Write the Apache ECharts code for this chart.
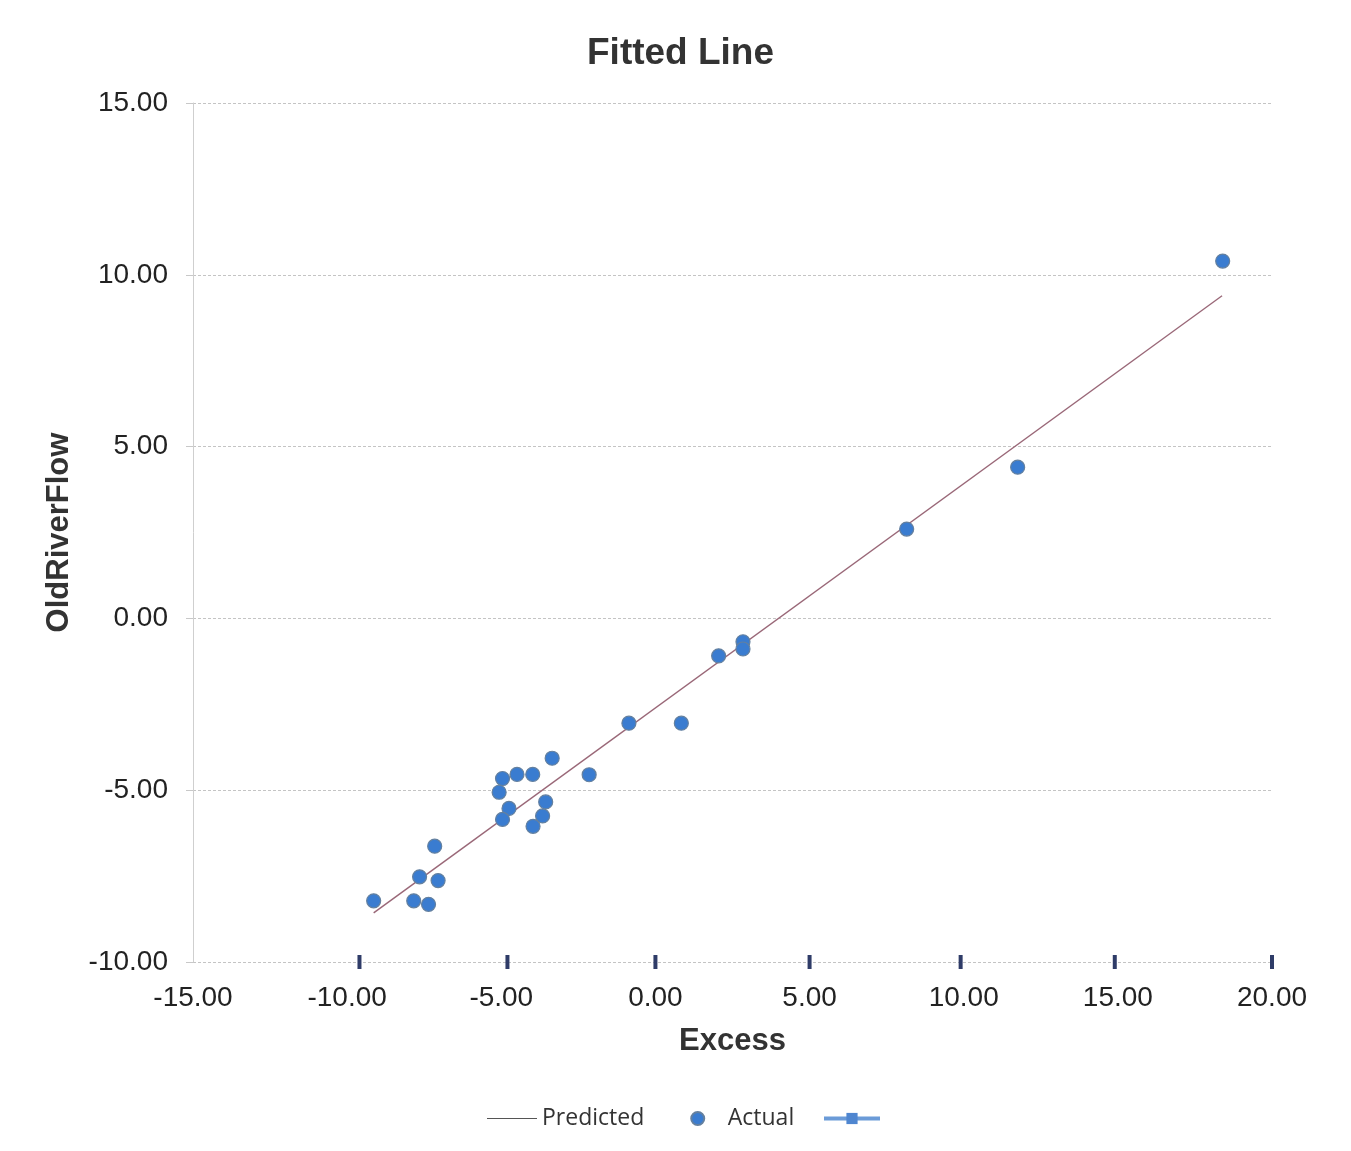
<!DOCTYPE html>
<html>
<head>
<meta charset="utf-8">
<script src="https://cdn.jsdelivr.net/npm/echarts@6/dist/echarts.min.js"></script>
<style>
html,body{margin:0;padding:0;background:#fff;}
#chart{width:1351px;height:1151px;}
</style>
</head>
<body>
<div id="chart"></div>
<script>
// Actual observations (Excess, OldRiverFlow)
const actualX = [-9.14, -7.84, -7.36, -7.65, -7.05, -7.16, -4.96, -4.49, -3.98, -5.07, -4.75, -4.96, -3.97, -3.66, -3.56, -3.35, -2.15, -0.86, 0.84, 2.05, 2.84, 2.84, 8.15, 11.75, 18.40];
const actualY = [-8.22, -8.22, -8.32, -7.52, -7.63, -6.63, -4.66, -4.54, -4.54, -5.06, -5.53, -5.85, -6.05, -5.75, -5.34, -4.07, -4.55, -3.05, -3.05, -1.09, -0.68, -0.89, 2.60, 4.40, 10.40];
// Fitted line end points
const predictedX = [-9.14, 18.38];
const predictedY = [-8.57, 9.39];
// Third (unnamed) series markers along the bottom
const markX = [-9.6, -4.8, 0.0, 5.0, 9.9, 14.9, 20.0];
const markY = [-10, -10, -10, -10, -10, -10, -10];
// Axes
const xMin = -15, xMax = 20, xStep = 5;
const yMin = -10, yMax = 15, yStep = 5;

const zip = (a, b) => a.map((v, i) => [v, b[i]]);

const legendText = {fontFamily: 'Open Sans, sans-serif', fontSize: 23, color: '#333'};

const chart = echarts.init(document.getElementById('chart'));
chart.setOption({
  backgroundColor: '#fff',
  animation: false,
  title: {
    text: 'Fitted Line',
    left: 582,
    top: 30,
    textStyle: {fontFamily: 'Liberation Sans, Arial, sans-serif', fontSize: 37, fontWeight: 'bold', color: '#333'}
  },
  grid: {left: 193, right: 79, top: 103, bottom: 189, containLabel: false},
  legend: [
    {
      left: 482,
      top: 1102,
      itemWidth: 50,
      itemHeight: 13,
      itemGap: 46,
      symbolKeepAspect: true,
      textStyle: legendText,
      data: [
        {name: 'Predicted', icon: 'path://M0,0H50V1.2H0Z', itemStyle: {color: '#555', opacity: 1}},
        {name: 'Actual', icon: 'circle'}
      ]
    },
    {
      left: 817,
      top: 1102,
      itemWidth: 56,
      itemHeight: 14,
      textStyle: legendText,
      data: [
        {name: ' ', lineStyle: {color: '#6b9bd8', width: 4, opacity: 1}, itemStyle: {color: '#4f86d0'}}
      ]
    }
  ],
  xAxis: {
    type: 'value',
    min: xMin, max: xMax, interval: xStep,
    name: 'Excess',
    nameLocation: 'middle',
    nameGap: 64,
    nameTextStyle: {fontFamily: 'Liberation Sans, Arial, sans-serif', fontSize: 31, fontWeight: 'bold', color: '#333'},
    axisLine: {show: false, onZero: false},
    axisTick: {show: false},
    splitLine: {show: false},
    axisLabel: {
      margin: 22,
      fontFamily: 'Liberation Sans, Arial, sans-serif', fontSize: 28, color: '#222',
      formatter: v => v.toFixed(2)
    }
  },
  yAxis: {
    type: 'value',
    min: yMin, max: yMax, interval: yStep,
    name: 'OldRiverFlow',
    nameLocation: 'middle',
    nameGap: 118,
    nameTextStyle: {fontFamily: 'Liberation Sans, Arial, sans-serif', fontSize: 31, fontWeight: 'bold', color: '#333'},
    axisLine: {show: true, onZero: false, lineStyle: {color: '#cfcfcf', width: 1}},
    axisTick: {show: true, length: 7, lineStyle: {color: '#c8c8c8'}},
    splitLine: {show: true, lineStyle: {color: '#c4c4c4', width: 1, type: [3, 2]}},
    axisLabel: {
      margin: 25,
      fontFamily: 'Liberation Sans, Arial, sans-serif', fontSize: 28, color: '#222',
      formatter: v => v.toFixed(2)
    }
  },
  series: [
    {
      name: 'Predicted',
      type: 'line',
      data: zip(predictedX, predictedY),
      symbol: 'none',
      lineStyle: {color: '#9a6878', width: 1.4},
      itemStyle: {color: '#9a6878'},
      z: 3
    },
    {
      name: 'Actual',
      type: 'scatter',
      data: zip(actualX, actualY),
      symbol: 'circle',
      symbolSize: 14,
      itemStyle: {color: '#3a7cd0', opacity: 1, borderColor: '#64809f', borderWidth: 1.2},
      z: 4
    },
    {
      name: ' ',
      type: 'line',
      data: zip(markX, markY),
      symbol: 'rect',
      symbolSize: [4, 14],
      showSymbol: true,
      lineStyle: {width: 0, color: '#6b9bd8'},
      itemStyle: {color: '#2f3c68'},
      z: 5
    }
  ]
});
</script>
</body>
</html>
